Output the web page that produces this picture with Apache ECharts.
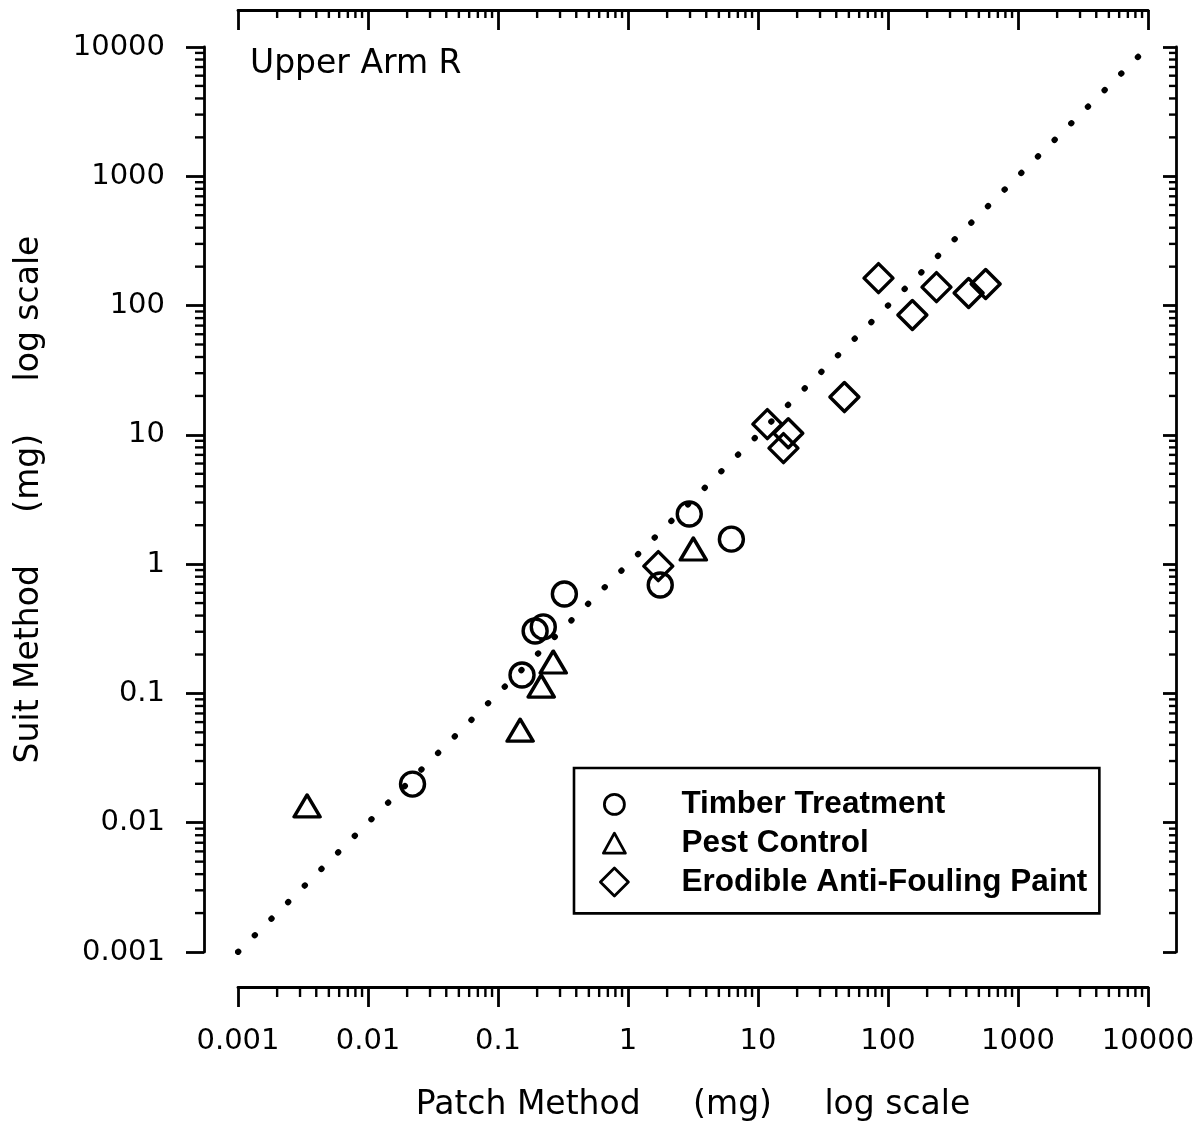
<!DOCTYPE html>
<html>
<head>
<meta charset="utf-8">
<script src="https://cdn.jsdelivr.net/npm/echarts@6/dist/echarts.min.js"></script>
<style>
  html, body { margin: 0; padding: 0; background: #fff; }
  #chart { width: 1197px; height: 1127px; }
</style>
</head>
<body>
<div id="chart"></div>
<script>
// ---- data ----
const tickLabels = ['0.001', '0.01', '0.1', '1', '10', '100', '1000', '10000'];
const minorTickValues = [];
[0.001, 0.01, 0.1, 1, 10, 100, 1000].forEach(function (d) {
  [2, 3, 4, 5, 6, 7, 8, 9].forEach(function (m) { minorTickValues.push(+(d * m).toPrecision(3)); });
});

const timberX = [0.022, 0.153, 0.193, 0.223, 0.324, 1.77, 2.96, 6.24];
const timberY = [0.0199, 0.139, 0.304, 0.327, 0.587, 0.689, 2.44, 1.56];

const pestX = [0.0034, 0.148, 0.215, 0.266, 3.18];
const pestY = [0.0135, 0.052, 0.114, 0.175, 1.31];

const paintX = [1.71, 11.8, 17.1, 15.7, 46.2, 84.5, 154, 236, 417, 564];
const paintY = [0.966, 12.1, 10.3, 7.9, 19.6, 163, 84.5, 139, 125, 147];

const identityLine = [[0.001, 0.001], [10000, 10000]];

const seriesNames = ['Timber Treatment', 'Pest Control', 'Erodible Anti-Fouling Paint'];

// ---- layout constants ----
const AX_MIN = 0.001, AX_MAX = 10000;
const OFF_BOTTOM = 35, OFF_TOP = 37, OFF_LEFT = 34, OFF_RIGHT = 28;
const FONT = 'DejaVu Sans';

// legend icons drawn in a 30x30 box (corner moveTo points fix the box)
const legendIcons = [
  'path://M0,0M30,30M5,15A10,10,0,1,1,25,15A10,10,0,1,1,5,15Z',
  'path://M0,0M30,30M15,5L26,25L4,25Z',
  'path://M0,0M30,30M15,1L29,15L15,29L1,15Z'
];

function zip(xs, ys) { return xs.map(function (x, i) { return [x, ys[i]]; }); }
function fmt(v) { return tickLabels[Math.round(Math.log10(v)) + 3]; }

const chart = echarts.init(document.getElementById('chart'), null, { renderer: 'canvas' });

const axisLineStyle = { color: '#000', width: 2.8 };

const markerStyle = { color: 'rgba(0,0,0,0)', borderColor: '#000', borderWidth: 3.4, borderJoin: 'round', opacity: 1 };

function renderMinor(params, api) {
  const v = api.value(0);
  const p = api.coord([v, v]);
  const bl = api.coord([AX_MIN, AX_MIN]);
  const tr = api.coord([AX_MAX, AX_MAX]);
  const by = bl[1] + OFF_BOTTOM, ty = tr[1] - OFF_TOP, lx = bl[0] - OFF_LEFT, rx = tr[0] + OFF_RIGHT;
  const st = { stroke: '#000', lineWidth: 2.4 };
  return {
    type: 'group',
    children: [
      { type: 'line', shape: { x1: p[0], y1: by, x2: p[0], y2: by + 10 }, style: st },
      { type: 'line', shape: { x1: p[0], y1: ty, x2: p[0], y2: ty + 8 }, style: st },
      { type: 'line', shape: { x1: lx, y1: p[1], x2: lx - 9, y2: p[1] }, style: st },
      { type: 'line', shape: { x1: rx, y1: p[1], x2: rx - 7, y2: p[1] }, style: st }
    ]
  };
}

const option = {
  animation: false,
  backgroundColor: '#fff',
  title: {
    text: 'Upper Arm R',
    left: 250, top: 48, padding: 0,
    textStyle: { fontFamily: FONT, fontSize: 33, fontWeight: 'normal', color: '#000' }
  },
  legend: {
    data: seriesNames.map(function (n, i) { return { name: n, icon: legendIcons[i] }; }),
    orient: 'vertical',
    left: 574, top: 768,
    padding: [20, 12, 15, 24],
    itemWidth: 30, itemHeight: 30,
    itemGap: 6,
    borderColor: '#000', borderWidth: 2.6, borderRadius: 0,
    backgroundColor: 'rgba(0,0,0,0)',
    selectedMode: false,
    itemStyle: { borderWidth: 2.8, color: 'rgba(0,0,0,0)', borderColor: '#000', opacity: 1 },
    textStyle: {
      fontFamily: 'Liberation Sans', fontWeight: 'bold', fontSize: 31.5, color: '#000',
      lineHeight: 30, padding: [0, 0, 0, 47]
    }
  },
  grid: { left: 238, right: 49, top: 47, bottom: 175, containLabel: false, outerBoundsMode: 'none' },
  xAxis: [
    {
      type: 'log', logBase: 10, min: AX_MIN, max: AX_MAX, splitNumber: 7,
      position: 'bottom', offset: OFF_BOTTOM,
      name: 'Patch Method     (mg)     log scale',
      nameLocation: 'middle', nameGap: 102, nameMoveOverlap: false,
      nameTextStyle: { fontFamily: FONT, fontSize: 33, color: '#000' },
      axisLine: { show: true, lineStyle: axisLineStyle },
      axisTick: { show: true, inside: false, length: 20, lineStyle: { color: '#000', width: 2.8 } },
      axisLabel: { show: true, margin: 40, fontFamily: FONT, fontSize: 29, color: '#000', formatter: fmt, showMinLabel: true, showMaxLabel: true },
      splitLine: { show: false }, minorTick: { show: false }
    },
    {
      type: 'log', logBase: 10, min: AX_MIN, max: AX_MAX, splitNumber: 7,
      position: 'top', offset: OFF_TOP,
      axisLine: { show: true, lineStyle: axisLineStyle },
      axisTick: { show: true, inside: true, length: 20, lineStyle: { color: '#000', width: 2.8 } },
      axisLabel: { show: false },
      splitLine: { show: false }
    }
  ],
  yAxis: [
    {
      type: 'log', logBase: 10, min: AX_MIN, max: AX_MAX, splitNumber: 7,
      position: 'left', offset: OFF_LEFT,
      name: 'Suit Method     (mg)     log scale',
      nameLocation: 'middle', nameRotate: 90, nameGap: 158, nameMoveOverlap: false,
      nameTextStyle: { fontFamily: FONT, fontSize: 33, color: '#000' },
      axisLine: { show: true, lineStyle: axisLineStyle },
      axisTick: { show: true, inside: false, length: 18, lineStyle: { color: '#000', width: 2.8 } },
      axisLabel: { show: true, margin: 39, fontFamily: FONT, fontSize: 29, color: '#000', formatter: fmt, showMinLabel: true, showMaxLabel: true },
      splitLine: { show: false }
    },
    {
      type: 'log', logBase: 10, min: AX_MIN, max: AX_MAX, splitNumber: 7,
      position: 'right', offset: OFF_RIGHT,
      axisLine: { show: true, lineStyle: axisLineStyle },
      axisTick: { show: true, inside: true, length: 13, lineStyle: { color: '#000', width: 2.8 } },
      axisLabel: { show: false },
      splitLine: { show: false }
    }
  ],
  series: [
    {
      type: 'custom', name: 'minorTicks', xAxisIndex: 0, yAxisIndex: 0,
      renderItem: renderMinor, clip: false, silent: true,
      data: minorTickValues.map(function (v) { return [v, v]; })
    },
    {
      type: 'line', name: 'identity', xAxisIndex: 0, yAxisIndex: 0,
      data: identityLine, symbol: 'none', silent: true,
      lineStyle: { color: '#000', width: 6, type: [0.5, 23], cap: 'round' }
    },
    {
      type: 'scatter', name: seriesNames[0], xAxisIndex: 0, yAxisIndex: 0,
      symbol: 'circle', symbolSize: 24, itemStyle: markerStyle,
      data: zip(timberX, timberY)
    },
    {
      type: 'scatter', name: seriesNames[1], xAxisIndex: 0, yAxisIndex: 0,
      symbol: 'triangle', symbolSize: [26, 22], itemStyle: markerStyle,
      data: zip(pestX, pestY)
    },
    {
      type: 'scatter', name: seriesNames[2], xAxisIndex: 0, yAxisIndex: 0,
      symbol: 'diamond', symbolSize: 29, itemStyle: markerStyle,
      data: zip(paintX, paintY)
    }
  ]
};

chart.setOption(option);
</script>
</body>
</html>
